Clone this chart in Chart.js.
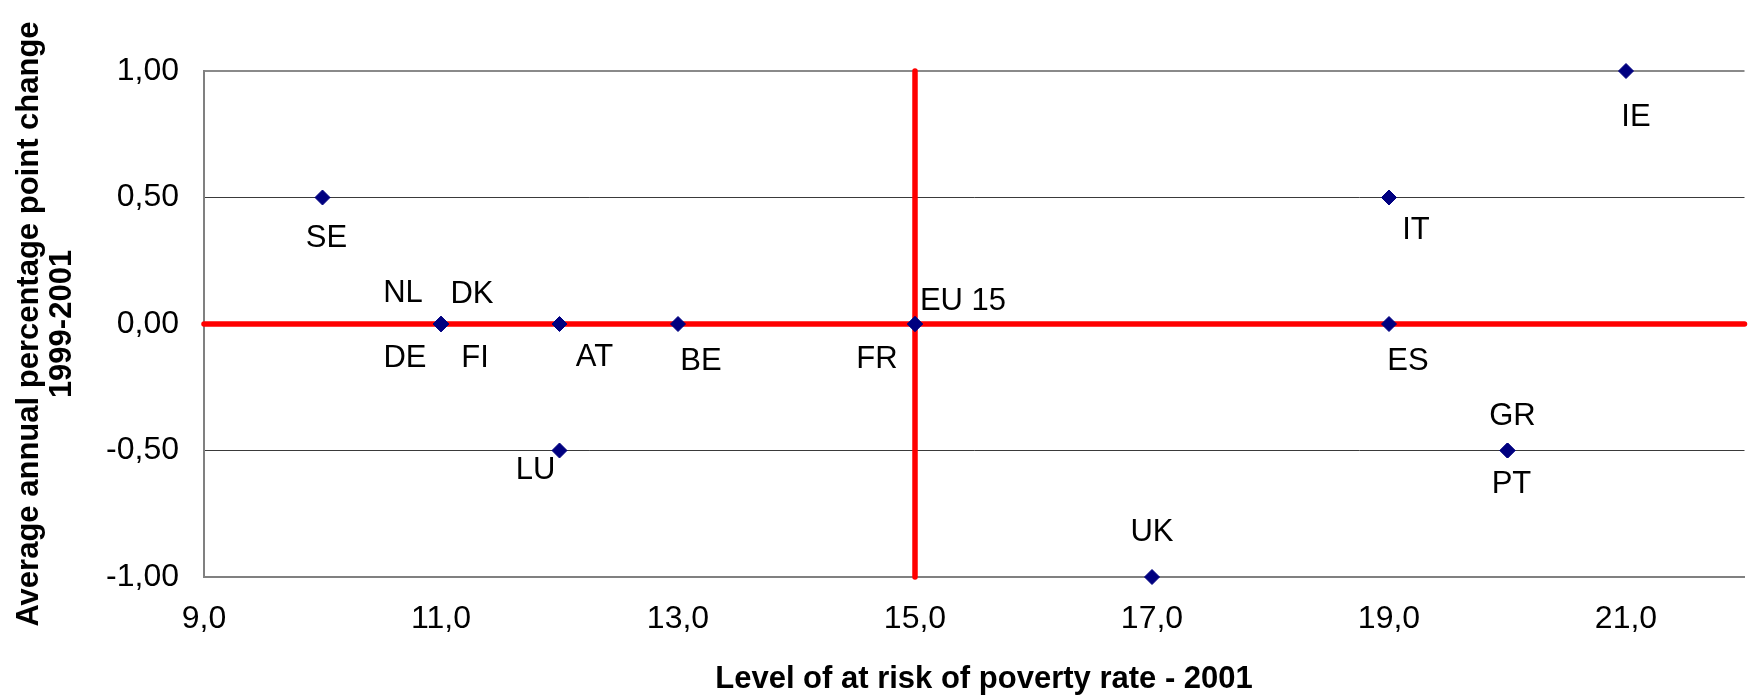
<!DOCTYPE html>
<html><head><meta charset="utf-8">
<script src="https://cdn.jsdelivr.net/npm/chart.js@4.4.1/dist/chart.umd.min.js"></script>
<style>html,body{margin:0;padding:0;background:#fff;overflow:hidden}canvas{display:block}</style>
</head><body>
<canvas id="c" width="1753" height="699" style="width:1753px;height:699px"></canvas>
<script>
// ---- data ----
const countries    = ['SE','NL','DK','DE','FI','AT','LU','BE','FR','EU 15','UK','IT','ES','GR','PT','IE'];
const povertyRate  = [10, 11, 11, 11, 11, 12, 12, 13, 15, 15, 17, 19, 19, 20, 20, 21];
const annualChange = [0.5, 0, 0, 0, 0, 0, -0.5, 0, 0, 0, -1, 0.5, 0, -0.5, -0.5, 1];
const xTicks = [9, 11, 13, 15, 17, 19, 21];
const yTicks = [-1, -0.5, 0, 0.5, 1];
const xRange = [9, 22];
const yRange = [-1, 1];
const eu15Level = 15;
const eu15Change = 0;
const xTitle = 'Level of at risk of poverty rate - 2001';
const yTitle = ['Average annual percentage point change', '1999-2001'];

// ---- label placement (style, px offsets from marker centre) ----
const labelOffsets = {
  'SE':[4,38], 'NL':[-38,-33], 'DK':[31,-32], 'DE':[-36,32], 'FI':[34,32],
  'AT':[35,31], 'LU':[-24,17], 'BE':[23,35], 'FR':[-38,33], 'EU 15':[48,-25],
  'UK':[0,-47], 'IT':[27,30], 'ES':[19,35], 'GR':[5,-37], 'PT':[4,31], 'IE':[10,44]
};

const FONT = "'Liberation Sans', Arial, sans-serif";
const points = povertyRate.map((x, i) => ({x: x, y: annualChange[i]}));
const hLine = xRange.map(x => ({x: x, y: eu15Change}));
const vLine = yRange.map(y => ({x: eu15Level, y: y}));

const overlay = {
  id: 'overlay',
  afterDatasetsDraw(chart) {
    const ctx = chart.ctx, xs = chart.scales.x, ys = chart.scales.y, ca = chart.chartArea;
    ctx.save();
    ctx.fillStyle = '#000';
    ctx.font = '31px ' + FONT;
    ctx.textAlign = 'center';
    ctx.textBaseline = 'alphabetic';
    countries.forEach((c, i) => {
      const px = xs.getPixelForValue(povertyRate[i]);
      const py = ys.getPixelForValue(annualChange[i]);
      const o = labelOffsets[c] || [0, 0];
      ctx.fillText(c, px + o[0], py + o[1] + 31 * 0.358);
    });
    // axis titles
    ctx.font = 'bold 31px ' + FONT;
    ctx.fillText(xTitle, 984, 688);
    ctx.save();
    ctx.translate(38, (ca.top + ca.bottom) / 2);
    ctx.rotate(-Math.PI / 2);
    ctx.fillText(yTitle[0], 0, 0);
    ctx.fillText(yTitle[1], 0, 33);
    ctx.restore();
    ctx.restore();
  }
};

new Chart(document.getElementById('c'), {
  type: 'scatter',
  data: {
    datasets: [
      { label: 'countries', data: points, pointStyle: 'rectRot', pointRadius: 7.5,
        pointBackgroundColor: '#000080', pointBorderColor: '#000080', pointBorderWidth: 1,
        showLine: false, order: 0, clip: false },
      { label: 'h', type: 'line', data: hLine, borderColor: '#ff0000', borderWidth: 5.5,
        pointRadius: 0, borderCapStyle: 'round', clip: false, order: 1 },
      { label: 'v', type: 'line', data: vLine, borderColor: '#ff0000', borderWidth: 5.5,
        pointRadius: 0, borderCapStyle: 'round', clip: false, order: 2 }
    ]
  },
  options: {
    responsive: false, animation: false, devicePixelRatio: 1,
    layout: { padding: { top: 71, right: 0, bottom: 0, left: 0 } },
    plugins: { legend: { display: false }, tooltip: { enabled: false } },
    scales: {
      x: {
        type: 'linear', min: xRange[0], max: xRange[1],
        afterBuildTicks: s => { s.ticks = xTicks.map(v => ({value: v})); },
        afterFit: s => { s.height = 122; },
        grid: { display: false, drawTicks: false },
        border: { display: true, color: '#808080', width: 2 },
        ticks: { padding: 23, color: '#000', font: { family: FONT, size: 32 },
          maxRotation: 0, autoSkip: false,
          callback: v => Number(v).toFixed(1).replace('.', ',') }
      },
      y: {
        type: 'linear', min: yRange[0], max: yRange[1],
        afterBuildTicks: s => { s.ticks = yTicks.map(v => ({value: v})); },
        afterFit: s => { s.width = 204; },
        grid: { drawTicks: false,
          color: c => (c.tick.value === 1 || c.tick.value === -1) ? '#8a8a8a' : '#3a3a3a',
          lineWidth: c => (c.tick.value === 1 || c.tick.value === -1) ? 2 : 1 },
        border: { display: true, color: '#808080', width: 2 },
        ticks: { padding: 25, color: '#000', font: { family: FONT, size: 32 },
          callback: v => Number(v).toFixed(2).replace('.', ',') }
      }
    }
  },
  plugins: [overlay]
});
</script>
</body></html>
